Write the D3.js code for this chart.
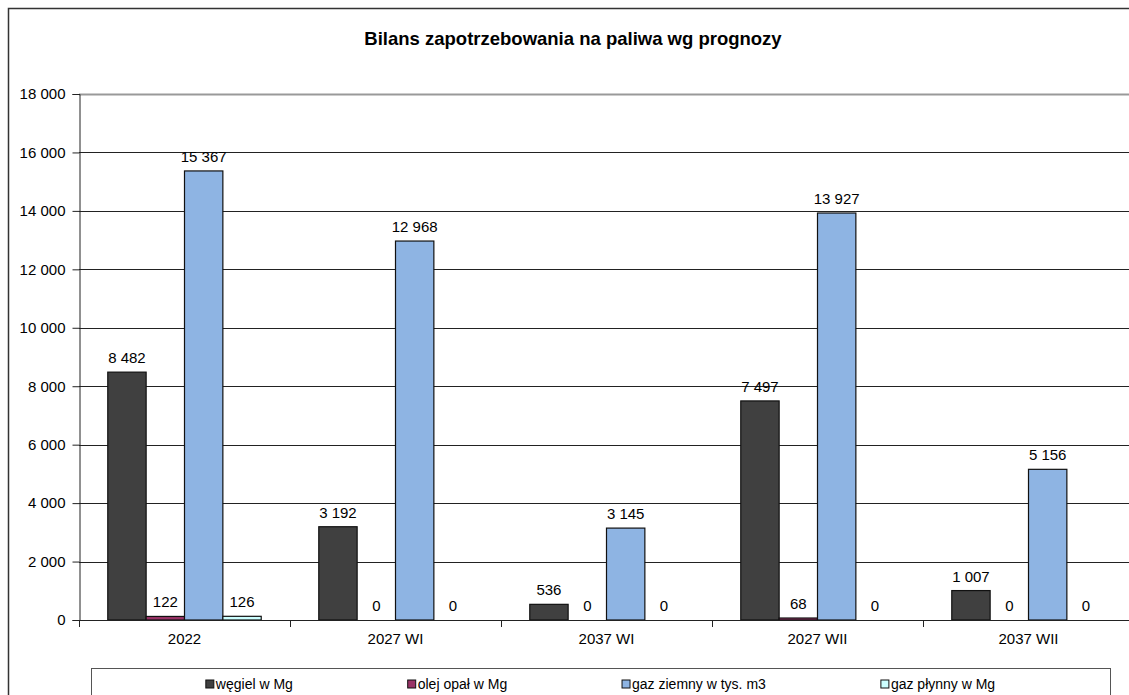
<!DOCTYPE html>
<html>
<head>
<meta charset="utf-8">
<script src="https://cdn.jsdelivr.net/npm/d3@7"></script>
<style>
  body { margin: 0; background: #fff; }
  svg { display: block; font-family: "Liberation Sans", Arial, sans-serif; }
</style>
</head>
<body>
<div id="chart"></div>
<script>
var categories = ["2022", "2027 WI", "2037 WI", "2027 WII", "2037 WII"];
var seriesNames = ["węgiel w Mg", "olej opał w Mg", "gaz ziemny w tys. m3", "gaz płynny w Mg"];
var wegiel = [8482, 3192, 536, 7497, 1007];
var olej = [122, 0, 0, 68, 0];
var gazZiemny = [15367, 12968, 3145, 13927, 5156];
var gazPlynny = [126, 0, 0, 0, 0];
var yTicks = [0, 2000, 4000, 6000, 8000, 10000, 12000, 14000, 16000, 18000];
var colors = ["#404040", "#993366", "#8EB4E3", "#CCFFFF"];

const WIDTH = 1129;
const HEIGHT = 695;
const PLOT_LEFT = 79;
const PLOT_RIGHT = 1134;
const PLOT_TOP = 94;
const PLOT_BOTTOM = 620;

var series = [wegiel, olej, gazZiemny, gazPlynny];

var locale = d3.formatLocale({decimal: ",", thousands: " ", grouping: [3], currency: ["", ""]});
var fmt = locale.format(",d");

var svg = d3.select("#chart").append("svg")
    .attr("width", WIDTH)
    .attr("height", HEIGHT);

// outer chart border
svg.append("rect")
    .attr("x", 8.5).attr("y", 8.5)
    .attr("width", 1135).attr("height", 700)
    .attr("fill", "none")
    .attr("stroke", "#333")
    .attr("stroke-width", 1.5);

svg.append("text")
    .attr("x", 573).attr("y", 45)
    .attr("text-anchor", "middle")
    .attr("font-size", "18.5px")
    .attr("font-weight", "bold")
    .attr("fill", "#000")
    .text("Bilans zapotrzebowania na paliwa wg prognozy");

var yScale = d3.scaleLinear().domain([0, 18000]).range([PLOT_BOTTOM, PLOT_TOP]);
var xScale = d3.scaleBand().domain(categories).range([PLOT_LEFT, PLOT_RIGHT]);
var barW = xScale.bandwidth() / (series.length + 1.5);
var inner = d3.scaleBand().domain(d3.range(series.length))
    .range([barW * 0.75, barW * 0.75 + barW * series.length]);

// gridlines
svg.append("g").selectAll("line")
    .data(yTicks.filter(function (d) { return d > 0; }))
    .enter().append("line")
    .attr("x1", PLOT_LEFT).attr("x2", PLOT_RIGHT)
    .attr("y1", function (d) { return Math.round(yScale(d)) + 0.5; })
    .attr("y2", function (d) { return Math.round(yScale(d)) + 0.5; })
    .attr("stroke", function (d) { return d === 18000 ? "#999" : "#222"; })
    .attr("stroke-width", function (d) { return d === 18000 ? 2 : 1; });

// y axis
var yAxis = d3.axisLeft(yScale).tickValues(yTicks).tickSize(7).tickPadding(7)
    .tickFormat(function (d) { return fmt(d); });
var gy = svg.append("g")
    .attr("transform", "translate(" + (PLOT_LEFT + 0.5) + ",0)")
    .call(yAxis);
gy.select(".domain").attr("stroke", "#222");
gy.selectAll(".tick line").attr("stroke", "#222");
gy.selectAll(".tick text").attr("font-size", "15px").attr("fill", "#000")
    .attr("font-family", "'Liberation Sans', Arial, sans-serif");

// bars
series.forEach(function (vals, si) {
    var g = svg.append("g");
    g.selectAll("rect").data(vals).enter().append("rect")
        .attr("x", function (d, i) { return xScale(categories[i]) + inner(si); })
        .attr("y", function (d) { return yScale(d); })
        .attr("width", barW)
        .attr("height", function (d) { return PLOT_BOTTOM - yScale(d); })
        .attr("fill", colors[si])
        .attr("stroke", "#111")
        .attr("stroke-width", 1.2);
    g.selectAll("text").data(vals).enter().append("text")
        .attr("x", function (d, i) { return xScale(categories[i]) + inner(si) + barW / 2; })
        .attr("y", function (d) { return yScale(d) - 9; })
        .attr("text-anchor", "middle")
        .attr("font-size", "15px")
        .attr("fill", "#000")
        .text(function (d) { return fmt(d); });
});

// x axis
var xAxis = d3.axisBottom(xScale).tickSize(0).tickPadding(0);
var gx = svg.append("g")
    .attr("transform", "translate(0," + (PLOT_BOTTOM + 0.5) + ")")
    .call(xAxis);
gx.select(".domain").attr("stroke", "#222").attr("d", "M" + PLOT_LEFT + ",0H" + PLOT_RIGHT);
gx.selectAll(".tick text").attr("font-size", "15px").attr("fill", "#000")
    .attr("dy", 0).attr("y", 23)
    .attr("font-family", "'Liberation Sans', Arial, sans-serif");
svg.append("g").selectAll("line")
    .data(categories.map(function (c) { return xScale(c); }))
    .enter().append("line")
    .attr("x1", function (d) { return Math.round(d) + 0.5; })
    .attr("x2", function (d) { return Math.round(d) + 0.5; })
    .attr("y1", PLOT_BOTTOM).attr("y2", PLOT_BOTTOM + 7)
    .attr("stroke", "#222");

// legend
var LEG_LEFT = 91, LEG_RIGHT = 1110, LEG_TOP = 668;
svg.append("rect")
    .attr("x", LEG_LEFT + 0.5).attr("y", LEG_TOP + 0.5)
    .attr("width", LEG_RIGHT - LEG_LEFT).attr("height", 60)
    .attr("fill", "#fff").attr("stroke", "#555");

var legItems = svg.append("g").selectAll("g").data(seriesNames).enter().append("g");
legItems.append("rect")
    .attr("width", 8).attr("height", 8)
    .attr("y", 680)
    .attr("fill", function (d, i) { return colors[i]; })
    .attr("stroke", "#111");
legItems.append("text")
    .attr("x", 10).attr("y", 689)
    .attr("font-size", "14px")
    .attr("fill", "#000")
    .text(function (d) { return d; });

var widths = [];
legItems.each(function () { widths.push(this.getBBox().width); });
var gap = (LEG_RIGHT - LEG_LEFT - d3.sum(widths)) / (widths.length + 1);
var cur = LEG_LEFT + gap;
legItems.each(function (d, i) {
    d3.select(this).attr("transform", "translate(" + cur + ",0)");
    cur += widths[i] + gap;
});
</script>
</body>
</html>
